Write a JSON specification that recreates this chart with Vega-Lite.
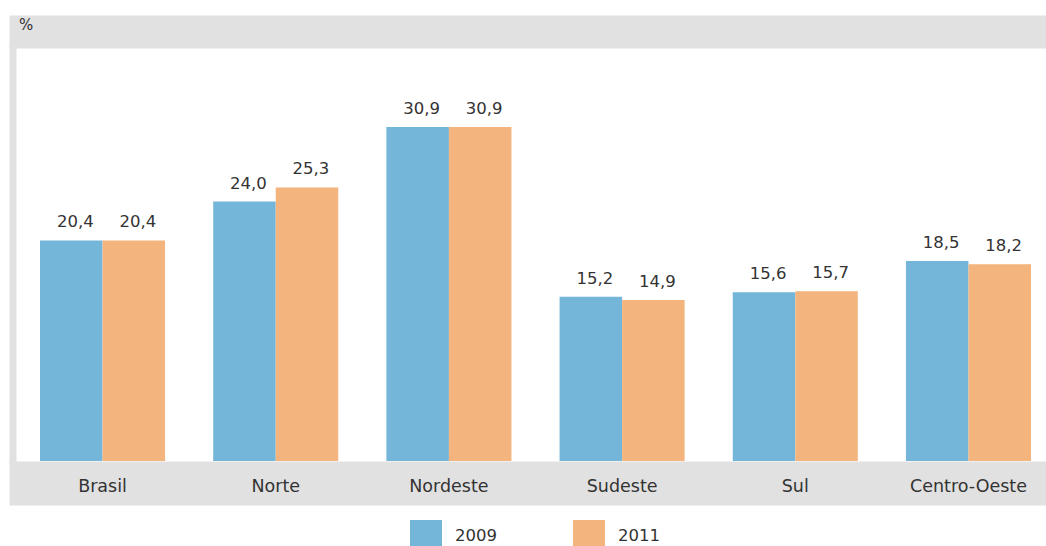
{
  "$schema": "https://vega.github.io/schema/vega-lite/v6.json",
  "width": 1037,
  "height": 413,
  "autosize": {"type": "none"},
  "padding": {"left": 9, "top": 48, "right": 0, "bottom": 85},
  "background": "white",
  "config": {
    "view": {"stroke": null, "fill": "white"},
    "font": "DejaVu Sans",
    "locale": {"number": {"decimal": ",", "thousands": ".", "grouping": [3], "currency": ["R$", ""]}}
  },
  "data": {
    "values": [
      {"regiao": "Brasil", "ano": "2009", "valor": 20.4},
      {"regiao": "Brasil", "ano": "2011", "valor": 20.4},
      {"regiao": "Norte", "ano": "2009", "valor": 24.0},
      {"regiao": "Norte", "ano": "2011", "valor": 25.3},
      {"regiao": "Nordeste", "ano": "2009", "valor": 30.9},
      {"regiao": "Nordeste", "ano": "2011", "valor": 30.9},
      {"regiao": "Sudeste", "ano": "2009", "valor": 15.2},
      {"regiao": "Sudeste", "ano": "2011", "valor": 14.9},
      {"regiao": "Sul", "ano": "2009", "valor": 15.6},
      {"regiao": "Sul", "ano": "2011", "valor": 15.7},
      {"regiao": "Centro-Oeste", "ano": "2009", "valor": 18.5},
      {"regiao": "Centro-Oeste", "ano": "2011", "valor": 18.2}
    ]
  },
  "encoding": {
    "xOffset": {"field": "ano", "type": "nominal", "scale": {"paddingInner": 0, "paddingOuter": 0}},
    "y": {
      "field": "valor",
      "type": "quantitative",
      "scale": {"domain": [0, 38.2], "nice": false},
      "axis": {
        "labels": false,
        "ticks": false,
        "grid": false,
        "domainColor": "#e1e1e1",
        "domainWidth": 7,
        "domainCap": "square",
        "offset": -3.5,
        "title": "%",
        "titleAngle": 0,
        "titleAlign": "center",
        "titleBaseline": "middle",
        "titleX": 13,
        "titleY": -24,
        "titleFontSize": 15,
        "titleFontWeight": "normal",
        "titleColor": "#333333",
        "zindex": 1
      }
    }
  },
  "layer": [
    {
      "mark": {"type": "bar", "strokeWidth": 0},
      "encoding": {
        "x": {
          "field": "regiao",
          "type": "nominal",
          "sort": ["Brasil", "Norte", "Nordeste", "Sudeste", "Sul", "Centro-Oeste"],
          "scale": {"paddingInner": 0.278, "paddingOuter": 0.1328, "align": 0.674},
          "axis": {
            "orient": "bottom",
            "title": null,
            "domain": false,
            "ticks": false,
            "tickSize": 0,
            "labelAngle": 0,
            "labelFontSize": 17.5,
            "labelColor": "#333333",
            "labelBaseline": "middle",
            "labelPadding": 3,
            "offset": 22,
            "zindex": 2
          }
        },
        "color": {
          "field": "ano",
          "type": "nominal",
          "scale": {"domain": ["2009", "2011"], "range": ["#74b6da", "#f3b47d"]},
          "legend": {
            "title": null,
            "orient": "none",
            "legendX": 401,
            "legendY": 472,
            "direction": "horizontal",
            "columns": 2,
            "padding": 0,
            "symbolType": "square",
            "symbolSize": 1024,
            "symbolStrokeWidth": 0,
            "labelFontSize": 16.5,
            "labelColor": "#333333",
            "labelOffset": 13,
            "columnPadding": 76
          }
        }
      }
    },
    {
      "transform": [{"filter": "datum.ano === '2009'"}],
      "mark": {"type": "text", "dx": 4, "dy": -13, "baseline": "alphabetic", "fontSize": 16.5, "color": "#333333"},
      "encoding": {
        "x": {
          "field": "regiao",
          "type": "nominal",
          "sort": ["Brasil", "Norte", "Nordeste", "Sudeste", "Sul", "Centro-Oeste"],
          "scale": {"paddingInner": 0.278, "paddingOuter": 0.1328, "align": 0.674},
          "axis": {
            "orient": "top",
            "title": null,
            "labels": false,
            "ticks": false,
            "domainColor": "#e1e1e1",
            "domainWidth": 33,
            "domainCap": "butt",
            "offset": 16.5,
            "zindex": 0
          }
        },
        "text": {"field": "valor", "type": "quantitative", "format": ".1f"}
      }
    },
    {
      "transform": [{"filter": "datum.ano === '2011'"}],
      "mark": {"type": "text", "dx": 4, "dy": -13, "baseline": "alphabetic", "fontSize": 16.5, "color": "#333333"},
      "encoding": {
        "x": {
          "field": "regiao",
          "type": "nominal",
          "sort": ["Brasil", "Norte", "Nordeste", "Sudeste", "Sul", "Centro-Oeste"],
          "scale": {"paddingInner": 0.278, "paddingOuter": 0.1328, "align": 0.674},
          "axis": {
            "orient": "bottom",
            "title": null,
            "labels": false,
            "ticks": false,
            "domainColor": "#e1e1e1",
            "domainWidth": 44,
            "domainCap": "butt",
            "offset": 22,
            "zindex": 0
          }
        },
        "text": {"field": "valor", "type": "quantitative", "format": ".1f"}
      }
    }
  ],
  "resolve": {"axis": {"x": "independent"}}
}
